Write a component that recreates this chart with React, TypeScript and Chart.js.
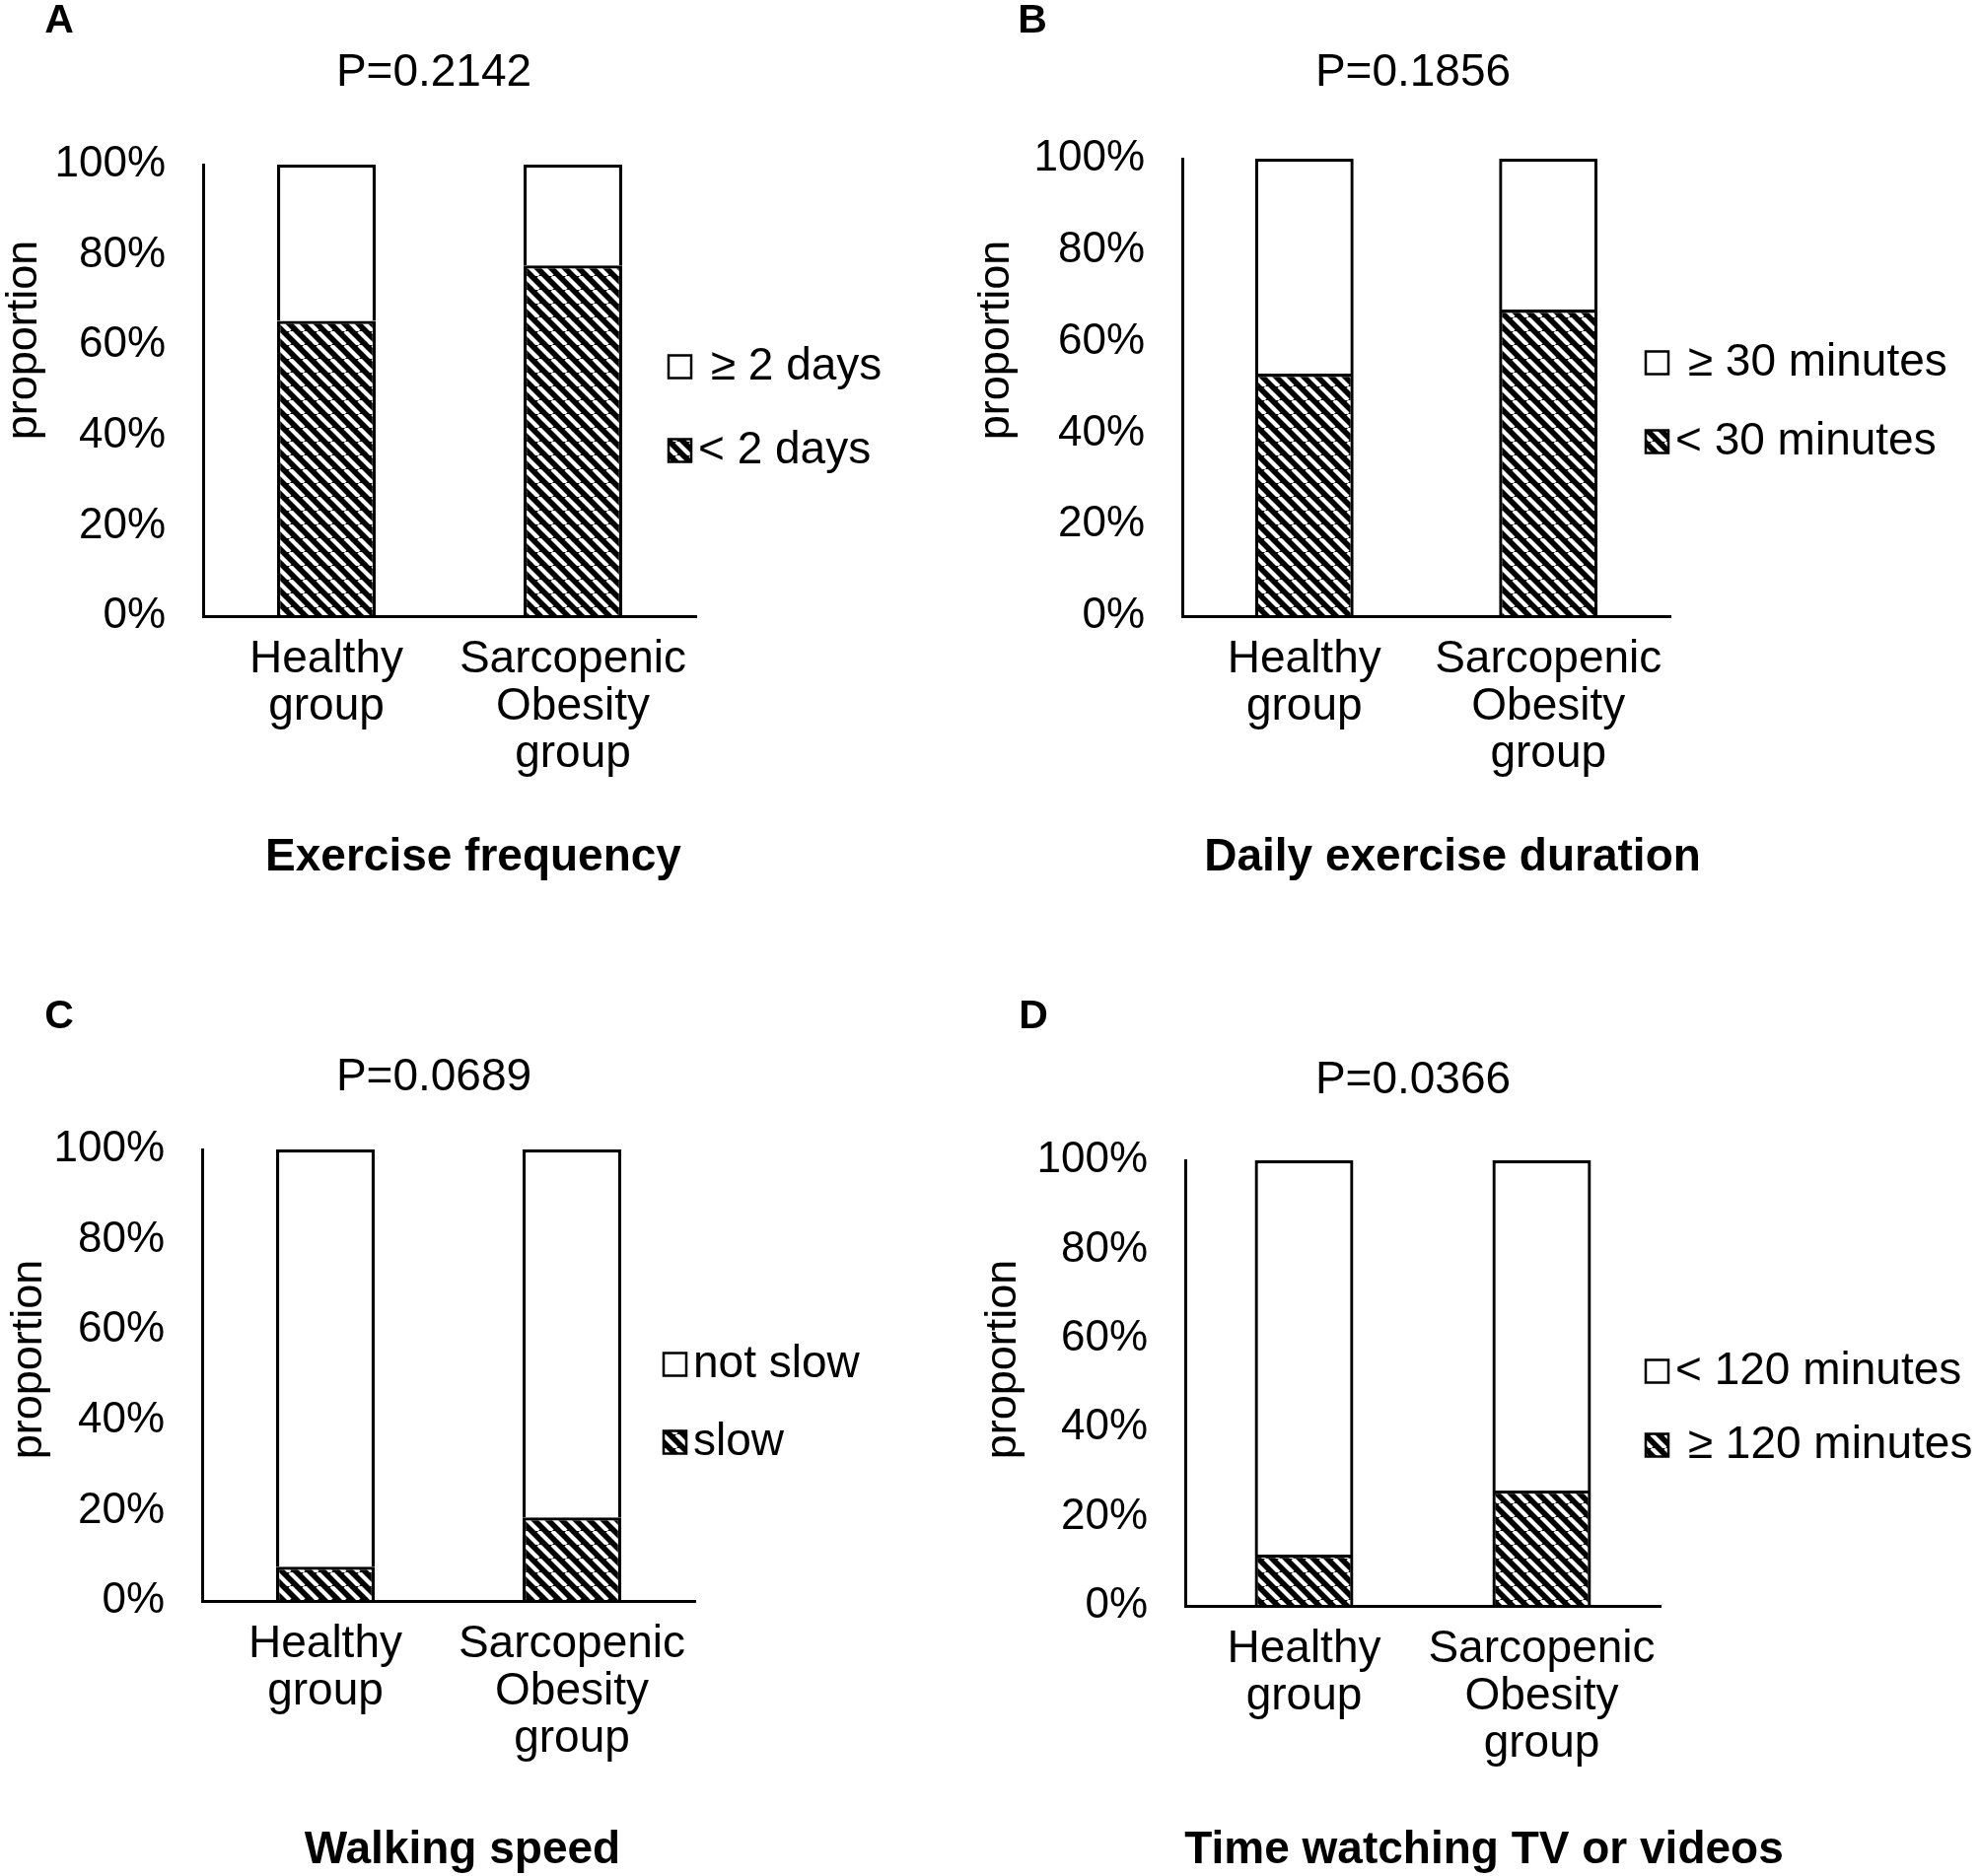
import React, { useEffect, useRef } from "react";
import { Chart, registerables } from "chart.js";

Chart.register(...registerables);

const FONT = "'Liberation Sans', Arial, Helvetica, sans-serif";
Chart.defaults.font.family = FONT;
Chart.defaults.color = "#000";

// ---------- data ----------
const groupLabels: string[][] = [
  ["Healthy", "group"],
  ["Sarcopenic", "Obesity", "group"],
];
const yTickValues = [0, 20, 40, 60, 80, 100];
const yAxisTitle = "proportion";

// A: Exercise frequency
const freqTitle = "Exercise frequency";
const freqP = "P=0.2142";
const freqSeriesLabels = ["< 2 days", " ≥ 2 days"]; // [hatched, plain]
const freqLess2Days = [65.4, 77.7];
const freqMore2Days = [34.6, 22.3];

// B: Daily exercise duration
const durTitle = "Daily exercise duration";
const durP = "P=0.1856";
const durSeriesLabels = ["< 30 minutes", " ≥ 30 minutes"];
const durLess30 = [53.0, 67.0];
const durMore30 = [47.0, 33.0];

// C: Walking speed
const walkTitle = "Walking speed";
const walkP = "P=0.0689";
const walkSeriesLabels = ["slow", "not slow"];
const walkSlow = [7.6, 18.5];
const walkNotSlow = [92.4, 81.5];

// D: Time watching TV or videos
const tvTitle = "Time watching TV or videos";
const tvP = "P=0.0366";
const tvSeriesLabels = [" ≥ 120 minutes", "< 120 minutes"];
const tvMore120 = [11.5, 25.9];
const tvLess120 = [88.5, 74.1];

// ---------- layout (page pixel positions) ----------
type Area = { left: number; right: number; top: number; bottom: number };
type PanelCfg = {
  letter: string;
  pValue: string;
  title: string;
  seriesLabels: string[];
  hatched: number[];
  plain: number[];
  ox: number;
  oy: number;
  w: number;
  h: number;
  area: Area;
  barPct: number;
  letterPos: [number, number];
  pPos: [number, number];
  titlePos: [number, number];
  yTitlePos: [number, number];
  legendX: number;
  legendRows: [number, number];
};

const panels: PanelCfg[] = [
  {
    letter: "A", pValue: freqP, title: freqTitle, seriesLabels: freqSeriesLabels,
    hatched: freqLess2Days, plain: freqMore2Days,
    ox: 0, oy: 0, w: 985, h: 951,
    area: { left: 206, right: 706, top: 167, bottom: 625 }, barPct: 0.4,
    letterPos: [60, 22], pPos: [440, 74], titlePos: [480, 870], yTitlePos: [25, 345],
    legendX: 678, legendRows: [372, 457],
  },
  {
    letter: "B", pValue: durP, title: durTitle, seriesLabels: durSeriesLabels,
    hatched: durLess30, plain: durMore30,
    ox: 975, oy: 0, w: 1033, h: 951,
    area: { left: 1199, right: 1694, top: 161, bottom: 625 }, barPct: 0.404,
    letterPos: [1047, 22], pPos: [1433, 74], titlePos: [1473, 870], yTitlePos: [1011, 345],
    legendX: 1669, legendRows: [368, 448],
  },
  {
    letter: "C", pValue: walkP, title: walkTitle, seriesLabels: walkSeriesLabels,
    hatched: walkSlow, plain: walkNotSlow,
    ox: 0, oy: 951, w: 985, h: 952,
    area: { left: 205, right: 705, top: 1166, bottom: 1624 }, barPct: 0.4,
    letterPos: [60, 1032], pPos: [440, 1093], titlePos: [469, 1877], yTitlePos: [30, 1379],
    legendX: 673, legendRows: [1384, 1463],
  },
  {
    letter: "D", pValue: tvP, title: tvTitle, seriesLabels: tvSeriesLabels,
    hatched: tvMore120, plain: tvLess120,
    ox: 975, oy: 951, w: 1033, h: 952,
    area: { left: 1202, right: 1684, top: 1177, bottom: 1629 }, barPct: 0.415,
    letterPos: [1048, 1032], pPos: [1433, 1096], titlePos: [1505, 1877], yTitlePos: [1018, 1379],
    legendX: 1669, legendRows: [1391, 1466],
  },
];

// ---------- helpers ----------
function makeHatch(): CanvasPattern | string {
  const s = 14;
  const c = document.createElement("canvas");
  c.width = s;
  c.height = s;
  const g = c.getContext("2d");
  if (!g) return "#000";
  g.fillStyle = "#000";
  g.fillRect(0, 0, s, s);
  g.strokeStyle = "#fff";
  g.lineWidth = 4.2;
  for (const o of [-s, 0, s]) {
    g.beginPath();
    g.moveTo(o, 0);
    g.lineTo(o + s, s);
    g.stroke();
  }
  return g.createPattern(c, "repeat") || "#000";
}

const decorPlugin = {
  id: "panelDecor",
  afterDraw(chart: any, _args: any, opts: any) {
    const ctx: CanvasRenderingContext2D = chart.ctx;
    const ox = opts.ox as number;
    const oy = opts.oy as number;
    ctx.save();
    ctx.fillStyle = "#000";
    ctx.textBaseline = "middle";

    // panel letter
    ctx.textAlign = "center";
    ctx.font = `bold 41px ${FONT}`;
    ctx.fillText(opts.letter, opts.letterPos[0] - ox, opts.letterPos[1] - oy);

    // p value
    ctx.font = `46px ${FONT}`;
    ctx.fillText(opts.pValue, opts.pPos[0] - ox, opts.pPos[1] - oy);

    // bottom title
    ctx.font = `bold 46px ${FONT}`;
    ctx.fillText(opts.title, opts.titlePos[0] - ox, opts.titlePos[1] - oy);

    // y-axis title
    ctx.save();
    ctx.translate(opts.yTitlePos[0] - ox, opts.yTitlePos[1] - oy);
    ctx.rotate(-Math.PI / 2);
    ctx.font = `45px ${FONT}`;
    ctx.fillText(opts.yTitle, 0, 0);
    ctx.restore();

    // legend: plain series on top, hatched below
    const ds = chart.data.datasets;
    const order = [1, 0];
    const box = 23;
    order.forEach((di, i) => {
      const d = ds[di];
      const cy = opts.legendRows[i] - oy;
      const bx = opts.legendX - ox;
      const by = cy - box / 2;
      ctx.fillStyle = d.backgroundColor;
      ctx.fillRect(bx, by, box, box);
      ctx.lineWidth = 2.5;
      ctx.strokeStyle = "#000";
      ctx.strokeRect(bx, by, box, box);
      ctx.fillStyle = "#000";
      ctx.textAlign = "left";
      ctx.font = `46px ${FONT}`;
      ctx.fillText(d.label, bx + box + 7, cy);
    });
    ctx.restore();
  },
};

function Panel({ cfg }: { cfg: PanelCfg }) {
  const ref = useRef<HTMLCanvasElement | null>(null);
  useEffect(() => {
    if (!ref.current) return;
    const hatch = makeHatch();
    const { area, ox, oy, w, h } = cfg;
    const chart = new Chart(ref.current, {
      type: "bar",
      data: {
        labels: groupLabels as any,
        datasets: [
          {
            label: cfg.seriesLabels[0],
            data: cfg.hatched,
            backgroundColor: hatch as any,
            borderColor: "#000",
            borderWidth: 3.3,
            borderSkipped: "bottom",
            barPercentage: cfg.barPct,
            categoryPercentage: 1,
          },
          {
            label: cfg.seriesLabels[1],
            data: cfg.plain,
            backgroundColor: "#fff",
            borderColor: "#000",
            borderWidth: 3.3,
            borderSkipped: "bottom",
            barPercentage: cfg.barPct,
            categoryPercentage: 1,
          },
        ],
      },
      options: {
        responsive: false,
        animation: false,
        devicePixelRatio: 1,
        layout: {
          padding: { left: 0, top: area.top - oy, right: ox + w - area.right, bottom: 0 },
        },
        plugins: {
          legend: { display: false },
          tooltip: { enabled: false },
          panelDecor: {
            ox, oy,
            letter: cfg.letter,
            pValue: cfg.pValue,
            title: cfg.title,
            yTitle: yAxisTitle,
            letterPos: cfg.letterPos,
            pPos: cfg.pPos,
            titlePos: cfg.titlePos,
            yTitlePos: cfg.yTitlePos,
            legendX: cfg.legendX,
            legendRows: cfg.legendRows,
          },
        } as any,
        scales: {
          x: {
            stacked: true,
            grid: { display: false, drawTicks: false },
            border: { display: true, color: "#000", width: 3, z: 1 } as any,
            ticks: {
              color: "#000",
              font: { size: 46, lineHeight: 1.05 },
              padding: 20,
              maxRotation: 0,
              minRotation: 0,
              autoSkip: false,
            },
            afterFit: (s: any) => {
              s.height = oy + h - area.bottom;
            },
          },
          y: {
            stacked: true,
            min: 0,
            max: 100,
            grid: { display: false, drawTicks: false },
            border: { display: true, color: "#000", width: 3 },
            ticks: {
              color: "#000",
              font: { size: 44 },
              padding: 38,
              callback: (v: any) => `${v}%`,
            },
            afterBuildTicks: (s: any) => {
              s.ticks = yTickValues.map((v) => ({ value: v }));
            },
            afterFit: (s: any) => {
              s.width = area.left - ox;
            },
          },
        },
      },
      plugins: [decorPlugin as any],
    });
    return () => chart.destroy();
  }, [cfg]);
  return (
    <canvas
      ref={ref}
      width={cfg.w}
      height={cfg.h}
      style={{
        position: "absolute",
        left: cfg.ox,
        top: cfg.oy,
        width: cfg.w,
        height: cfg.h,
        display: "block",
      }}
    />
  );
}

export default function App() {
  return (
    <div
      style={{
        position: "absolute",
        left: 0,
        top: 0,
        width: 2008,
        height: 1903,
        overflow: "hidden",
        background: "#fff",
      }}
    >
      {panels.map((p) => (
        <Panel key={p.letter} cfg={p} />
      ))}
    </div>
  );
}
